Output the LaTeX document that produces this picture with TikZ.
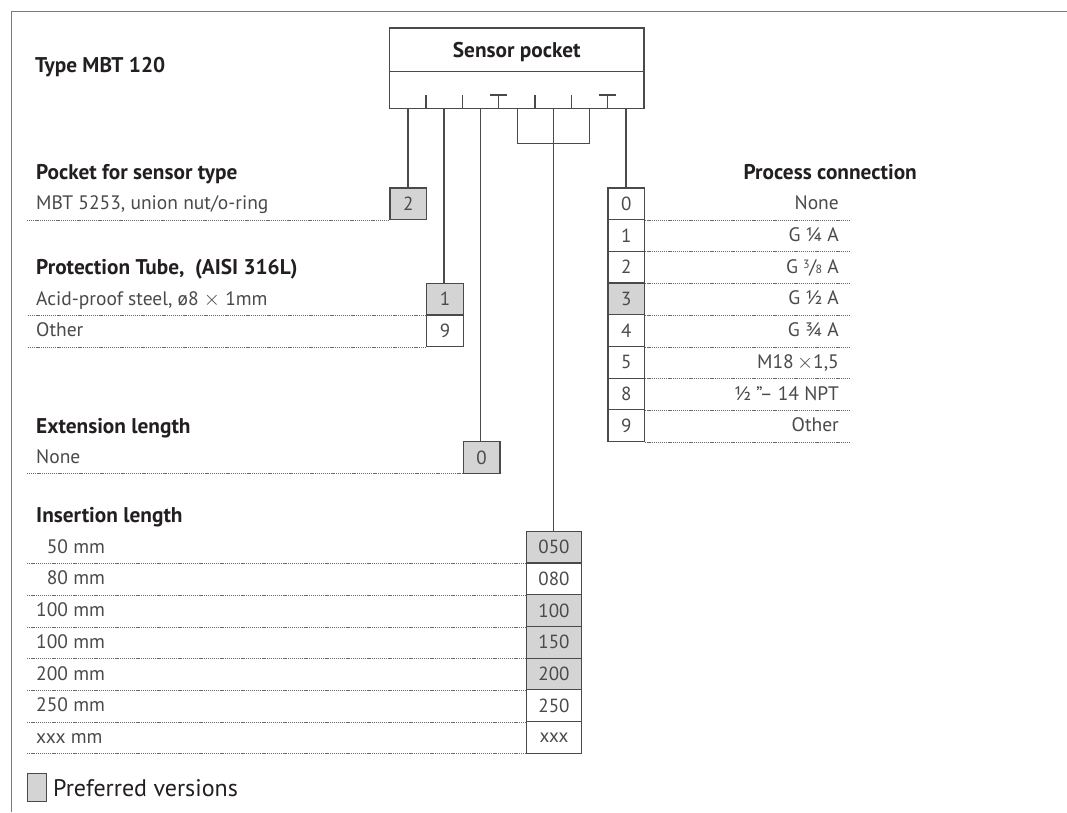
\documentclass[tikz,border=0pt]{standalone}
\usepackage{fontspec}
\setmainfont{PT Sans}
\definecolor{framec}{HTML}{7A7A7A}
\definecolor{boxc}{HTML}{4A4A4A}
\definecolor{linec}{HTML}{4A4A4A}
\definecolor{fillc}{HTML}{D4D4D4}
\definecolor{itemc}{HTML}{4A4A4A}
\definecolor{headc}{HTML}{231F20}
\definecolor{dotc}{HTML}{6A6A6A}
\begin{document}
\begin{tikzpicture}[x=1pt,y=-1pt,
  framel/.style={draw=framec,line width=1.3pt},
  boxl/.style={draw=boxc,line width=1.2pt},
  conn/.style={draw=linec,line width=1.2pt},
  dotl/.style={draw=dotc,line width=0.9pt,dash pattern=on 1.2pt off 0.9pt},
  cellbase/.style={draw=boxc,line width=1.2pt,minimum height=31.7pt,inner sep=0pt,anchor=north west,text=itemc,font=\fontsize{19}{19}\selectfont},
  cell/.style={cellbase,minimum width=36.7pt},
  wcell/.style={cellbase,minimum width=54.7pt},
  pref/.style={fill=fillc},
  head/.style={anchor=base west,inner sep=0pt,text=headc,font=\fontsize{21.3}{21.3}\selectfont\bfseries},
  item/.style={anchor=base west,inner sep=0pt,text=itemc,font=\fontsize{19.5}{19.5}\selectfont},
  ritem/.style={item,anchor=base east},
]
\useasboundingbox (0,0) rectangle (1067,812);
\fill[white] (0,0) rectangle (1067,812);
\draw[framel] (11.7,812) -- (11.7,11.7) -- (1067,11.7);

% title
\node[head] (title) at (35,72.7) {Type MBT 120};

% sensor pocket box
\node[boxl,minimum width=254.5pt,minimum height=80.3pt,inner sep=0pt] (sp) at (516.75,68.15) {};
\node[head,anchor=base] (spt) at (516.75,57.7) {Sensor pocket};
\draw[boxl] (389.5,71.7) -- (644,71.7);
\foreach \x in {426,462.7,535,571.7} \draw[boxl] (\x,95) -- (\x,108.3);
\foreach \x in {498.3,607.7} {\draw[boxl] (\x,95) -- (\x,108.3); \draw[boxl] (\x-8.5,95) -- (\x+8.5,95);}

% left cells
\node[cell,pref] (b2) at (389.3,187.3) {2};
\node[cell,pref] (b1) at (426,282.7) {1};
\node[cell] (b9) at (426,314.4) {9};
\node[cell,pref] (b0) at (462.7,441) {0};

% process connection cells
\node[cell] (p0) at (607.3,187.3) {0};
\node[cell] (p1) at (607.3,219.0) {1};
\node[cell] (p2) at (607.3,250.7) {2};
\node[cell,pref] (p3) at (607.3,282.4) {3};
\node[cell] (p4) at (607.3,314.1) {4};
\node[cell] (p5) at (607.3,345.8) {5};
\node[cell] (p8) at (607.3,377.5) {8};
\node[cell] (p9) at (607.3,409.2) {9};

% insertion cells
\node[wcell,pref] (i1) at (526,530.7) {050};
\node[wcell] (i2) at (526,562.4) {080};
\node[wcell,pref] (i3) at (526,594.1) {100};
\node[wcell,pref] (i4) at (526,625.8) {150};
\node[wcell,pref] (i5) at (526,657.5) {200};
\node[wcell] (i6) at (526,689.2) {250};
\node[wcell] (i7) at (526,720.9) {xxx};

% connectors
\coordinate (c1) at (408,108.3);
\coordinate (c2) at (444,108.3);
\coordinate (c3) at (480.7,108.3);
\coordinate (c4) at (517.3,108.3);
\coordinate (c5) at (553.3,108.3);
\coordinate (c6) at (589.3,108.3);
\coordinate (c7) at (626,108.3);
\coordinate (bk) at (553.3,143.3);
\draw[conn] (c1) -- (c1 |- b2.north);
\draw[conn] (c2) -- (c2 |- b1.north);
\draw[conn] (c3) -- (c3 |- b0.north);
\draw[conn] (c4) |- (bk) -| (c6);
\draw[conn] (c5) -- (c5 |- i1.north);
\draw[conn] (c7) -- (c7 |- p0.north);

% dotted guide lines
\coordinate (lm) at (27,0);
\coordinate (rm) at (849,0);
\draw[dotl] (b2.south west) -- (lm |- b2.south west);
\draw[dotl] (b1.south west) -- (lm |- b1.south west);
\draw[dotl] (b9.south west) -- (lm |- b9.south west);
\draw[dotl] (b0.south west) -- (lm |- b0.south west);
\foreach \n in {p0,p1,p2,p3,p4,p5,p8,p9} \draw[dotl] (\n.south east) -- (rm |- \n.south east);
\foreach \n in {i1,i2,i3,i4,i5,i6,i7} \draw[dotl] (\n.south west) -- (lm |- \n.south west);

% left headings and items
\node[head] (h1) at (36,179.3) {Pocket for sensor type};
\node[item] (t2) at (36,209.8) {MBT 5253, union nut/o-ring};
\node[head] (h2) at (36,274.7) {Protection Tube,\ \ (AISI 316L)};
\node[item] (t1) at (36,305.2) {Acid-proof steel, ø8 $\times$ 1mm};
\node[item] (t9) at (36,336.9) {Other};
\node[head] (h3) at (36,433) {Extension length};
\node[item] (t0) at (36,463.5) {None};
\node[head] (h4) at (36,522.7) {Insertion length};
\node[item] (ti1) at (36,553.2) {\hphantom{1}50 mm};
\node[item] (ti2) at (36,584.9) {\hphantom{1}80 mm};
\node[item] (ti3) at (36,616.6) {100 mm};
\node[item] (ti4) at (36,648.3) {100 mm};
\node[item] (ti5) at (36,680.0) {200 mm};
\node[item] (ti6) at (36,711.7) {250 mm};
\node[item] (ti7) at (36,743.4) {xxx mm};

% right heading and items
\node[head,anchor=base east] (h5) at (917,179.3) {Process connection};
\node[ritem] (r0) at (839,209.8) {None};
\node[ritem] (r1) at (839,241.5) {G ¼ A};
\node[ritem] (r2) at (839,273.2) {G \raisebox{5pt}{\fontsize{12}{12}\selectfont 3}\kern-0.5pt/\kern-0.5pt{\fontsize{12}{12}\selectfont 8} A};
\node[ritem] (r3) at (839,304.9) {G ½ A};
\node[ritem] (r4) at (839,336.6) {G ¾ A};
\node[ritem] (r5) at (839,368.3) {M18\,$\times$1,5};
\node[ritem] (r8) at (839,400.0) {½ ”– 14 NPT};
\node[ritem] (r9) at (839,431.7) {Other};

% legend
\node[boxl,fill=fillc,minimum width=18.5pt,minimum height=28pt,anchor=north west,inner sep=0pt] (leg) at (27,773) {};
\node[anchor=west,inner sep=0pt,text=headc,font=\fontsize{24}{24}\selectfont] (legt) at (53,788) {Preferred versions};
\end{tikzpicture}
\end{document}
